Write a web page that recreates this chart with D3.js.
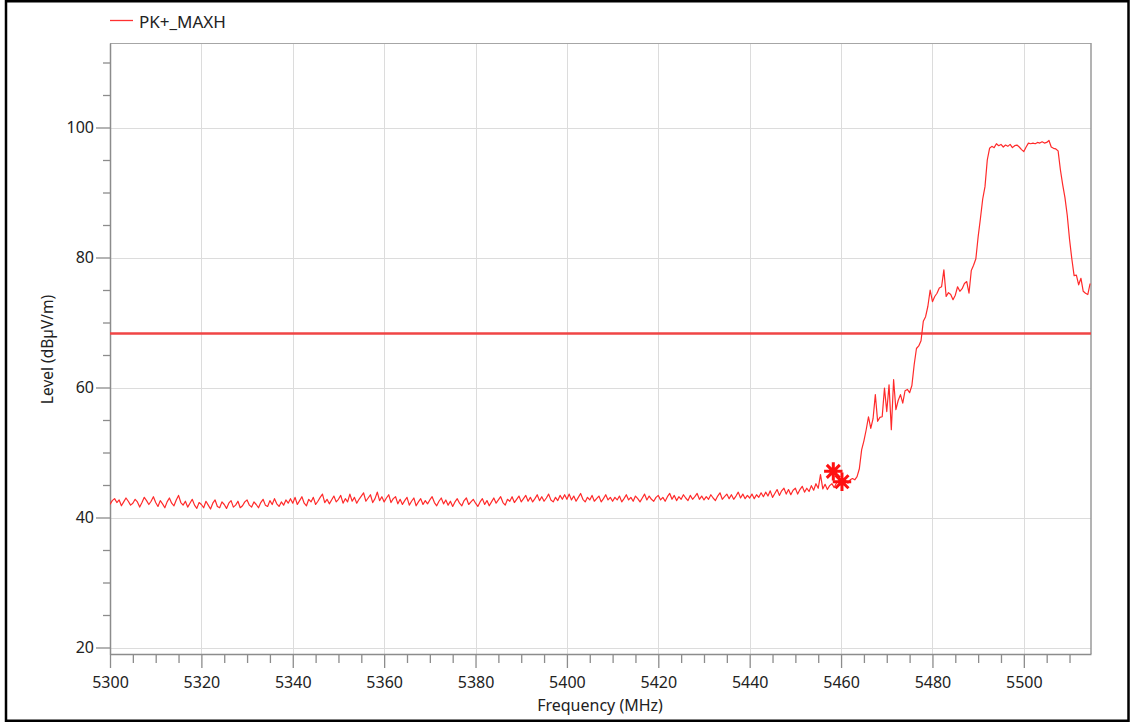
<!DOCTYPE html>
<html>
<head>
<meta charset="utf-8">
<script src="https://cdn.jsdelivr.net/npm/d3@7/dist/d3.min.js"></script>
<style>
  html, body { margin: 0; padding: 0; background: #fff; }
  svg { display: block; font-family: "Noto Sans", "Open Sans", sans-serif; }
</style>
</head>
<body>
<svg id="chart" width="1133" height="723"></svg>
<script>
// ---------- data ----------
const seriesName = "PK+_MAXH";
const freqStart = 5300;      // MHz
const freqStep = 0.5;        // MHz between trace points
const xDomain = [5300, 5514.7];
const yDomain = [19, 113];
const xMajorTicks = [5300, 5320, 5340, 5360, 5380, 5400, 5420, 5440, 5460, 5480, 5500];
const yMajorTicks = [20, 40, 60, 80, 100];
const xMinorStep = 5;
const yMinorStep = 5;
const limitLevel = 68.3;     // dBµV/m
const markerFreqs = [5458.3, 5460.2];
const markerLevels = [47.1, 45.5];
const xTitle = "Frequency (MHz)";
const yTitle = "Level (dBµV/m)";

// trace levels (dBµV/m), one per 0.5 MHz from 5300 MHz
const level = [
  // 5300
  42.0,42.6,42.9,42.3,42.7,41.8,42.4,43.0,42.5,41.9,42.2,42.8,42.4,41.6,42.3,43.1,42.6,42.0,42.5,43.2,
  // 5310
  42.3,41.7,42.6,42.1,41.5,42.4,43.0,42.2,41.8,42.7,43.4,42.3,41.9,42.5,41.6,42.2,42.8,41.9,41.4,42.3,
  // 5320
  42.0,41.5,42.5,41.9,41.3,42.2,42.7,41.7,41.5,42.4,42.0,41.4,42.2,42.6,41.6,41.9,42.5,41.5,41.8,42.4,
  // 5330
  42.7,41.9,41.6,42.4,42.0,41.5,42.3,42.8,41.9,41.7,42.6,42.0,42.9,42.1,41.7,42.4,41.9,42.7,42.2,42.9,
  // 5340
  42.2,43.1,42.0,42.6,43.2,42.2,41.8,42.8,42.4,43.1,42.0,42.5,43.1,43.6,42.3,42.8,42.1,42.7,43.3,42.4,
  // 5350
  42.8,43.4,42.2,42.9,42.4,43.6,42.5,43.1,42.2,42.8,43.3,43.8,42.5,43.0,43.5,42.3,42.9,43.9,42.6,43.2,
  // 5360
  42.4,43.0,43.5,42.3,42.9,43.2,42.1,42.8,42.0,42.6,43.1,41.9,42.5,43.0,41.8,42.4,42.9,42.0,42.6,42.1,
  // 5370
  42.7,43.2,42.3,41.8,42.5,43.0,42.1,42.7,41.9,42.5,41.7,42.4,42.9,42.2,41.8,42.6,43.0,42.0,42.4,42.8,
  // 5380
  42.2,41.7,42.4,42.9,42.0,42.6,41.8,42.4,43.0,42.2,42.7,43.2,42.3,41.9,42.8,42.5,43.2,42.3,42.8,43.3,
  // 5390
  42.4,42.9,43.4,42.5,43.1,42.4,42.9,43.5,42.6,43.2,42.5,43.0,43.6,42.7,42.4,43.1,42.6,43.4,42.8,43.5,
  // 5400
  42.8,43.6,42.7,43.3,42.5,43.1,43.7,42.8,42.4,43.1,42.7,43.4,42.5,42.9,43.3,42.4,42.9,43.5,42.7,43.1,
  // 5410
  42.5,43.1,42.7,43.3,42.4,42.9,43.5,42.7,43.1,42.5,43.3,42.9,42.4,43.0,43.6,42.7,43.3,42.8,42.5,43.1,
  // 5420
  43.4,42.7,43.1,42.5,43.2,43.7,42.8,43.4,42.6,43.2,42.8,43.5,43.0,42.6,43.4,42.8,43.2,43.7,42.8,43.3,
  // 5430
  42.7,43.2,42.8,43.5,43.0,42.6,43.3,43.8,42.8,43.2,43.6,42.9,43.5,42.8,43.3,43.9,43.0,43.6,42.9,43.4,
  // 5440
  43.0,43.6,42.9,43.5,43.1,43.8,43.2,43.9,43.3,44.1,43.1,43.7,44.3,43.4,44.1,44.5,43.6,44.3,43.5,44.2,
  // 5450
  44.5,43.6,44.3,44.8,43.9,44.5,44.0,44.9,44.2,45.2,44.5,46.6,44.4,45.1,44.3,44.9,45.2,44.6,45.3,45.5,
  // 5460
  45.0,45.4,45.7,45.3,45.8,46.0,45.8,46.3,47.5,50.4,51.8,53.5,55.5,53.7,55.2,58.9,54.8,55.4,55.5,59.9,
  // 5470
  56.3,60.4,53.5,61.2,56.6,58.0,58.9,57.6,59.5,59.7,59.2,60.3,63.5,66.0,66.4,67.2,70.2,70.9,72.5,75.0,
  // 5480
  73.2,74.0,74.5,75.3,75.5,78.1,74.0,74.6,74.3,73.5,74.2,75.5,74.8,75.2,76.0,76.3,74.5,78.0,78.8,79.8,
  // 5490
  83.2,86.0,89.0,90.9,95.0,96.8,97.1,96.9,97.5,97.2,97.4,97.0,97.3,97.1,97.4,96.9,97.2,97.3,97.0,96.6,
  // 5500
  96.3,97.0,97.6,97.5,97.6,97.5,97.7,97.6,97.8,97.6,97.7,98.0,97.0,96.8,96.7,96.4,93.5,91.2,89.2,86.5,
  // 5510
  82.8,79.8,77.2,77.3,75.8,76.8,74.8,74.5,74.3,76.0
];

// ---------- layout ----------
const svg = d3.select("#chart");
const plot = { left: 110, top: 43, right: 1091, bottom: 654 };

const x = d3.scaleLinear().domain(xDomain).range([plot.left, plot.right]);
const y = d3.scaleLinear().domain(yDomain).range([plot.bottom, plot.top]);

// outer frame
svg.append("rect")
  .attr("x", 6).attr("y", 1.25).attr("width", 1122.5).attr("height", 719.5)
  .attr("fill", "#fff").attr("stroke", "#000").attr("stroke-width", 2.5);

// gridlines
const grid = svg.append("g");
grid.selectAll("line.vx").data(xMajorTicks.filter(v => v > xDomain[0])).join("line")
  .attr("x1", d => Math.round(x(d)) + 0.5).attr("x2", d => Math.round(x(d)) + 0.5)
  .attr("y1", plot.top).attr("y2", plot.bottom)
  .attr("stroke", "#dcdcdc").attr("stroke-width", 1);
grid.selectAll("line.hy").data(yMajorTicks).join("line")
  .attr("x1", plot.left).attr("x2", plot.right)
  .attr("y1", d => Math.round(y(d)) + 0.5).attr("y2", d => Math.round(y(d)) + 0.5)
  .attr("stroke", "#dcdcdc").attr("stroke-width", 1);

// top and right border of plot
svg.append("line").attr("x1", plot.left).attr("x2", plot.right)
  .attr("y1", plot.top + 0.5).attr("y2", plot.top + 0.5)
  .attr("stroke", "#a6a6a6").attr("stroke-width", 1);
svg.append("line").attr("x1", plot.right).attr("x2", plot.right)
  .attr("y1", plot.top).attr("y2", plot.bottom)
  .attr("stroke", "#9a9a9a").attr("stroke-width", 1.5);

// minor ticks
const xMinor = d3.range(xDomain[0], xDomain[1] + 0.001, xMinorStep).filter(v => !xMajorTicks.includes(v));
const yMinor = d3.range(20, yDomain[1], yMinorStep).filter(v => !yMajorTicks.includes(v));

const xAxisMinor = d3.axisBottom(x).tickValues(xMinor).tickSize(9).tickFormat("");
const yAxisMinor = d3.axisLeft(y).tickValues(yMinor).tickSize(7).tickFormat("");
const xAxis = d3.axisBottom(x).tickValues(xMajorTicks).tickSize(14).tickSizeOuter(0).tickPadding(9).tickFormat(d3.format("d"));
const yAxis = d3.axisLeft(y).tickValues(yMajorTicks).tickSize(14).tickSizeOuter(0).tickPadding(2).tickFormat(d3.format("d"));

function styleAxis(g) {
  g.selectAll("path").attr("stroke", "#8c8c8c").attr("stroke-width", 1.5);
  g.selectAll("line").attr("stroke", "#8c8c8c").attr("stroke-width", 1.3);
  g.selectAll("text").attr("fill", "#222").style("font-size", "16px")
    .style("font-family", '"Noto Sans", sans-serif');
}
svg.append("g").attr("transform", `translate(0,${plot.bottom})`).call(xAxisMinor).call(styleAxis)
  .select(".domain").remove();
svg.append("g").attr("transform", `translate(${plot.left},0)`).call(yAxisMinor).call(styleAxis)
  .select(".domain").remove();
svg.append("g").attr("transform", `translate(0,${plot.bottom})`).call(xAxis).call(styleAxis);
svg.append("g").attr("transform", `translate(${plot.left},0)`).call(yAxis).call(styleAxis);

// axis titles
svg.append("text").attr("x", 600).attr("y", 711)
  .attr("text-anchor", "middle").attr("fill", "#222").style("font-size", "16px").text(xTitle);
svg.append("text").attr("transform", `translate(53,${(plot.top + plot.bottom) / 2 + 1}) rotate(-90)`)
  .attr("text-anchor", "middle").attr("fill", "#222").style("font-size", "15.5px").text(yTitle);

// clip
svg.append("clipPath").attr("id", "clip").append("rect")
  .attr("x", plot.left).attr("y", plot.top)
  .attr("width", plot.right - plot.left).attr("height", plot.bottom - plot.top);

const content = svg.append("g").attr("clip-path", "url(#clip)");

// limit line
content.append("line")
  .attr("x1", x(xDomain[0])).attr("x2", x(xDomain[1]))
  .attr("y1", y(limitLevel)).attr("y2", y(limitLevel))
  .attr("stroke", "#f04545").attr("stroke-width", 2.6);

// trace
const traceData = level.map((v, i) => [freqStart + i * freqStep, v]);
const line = d3.line().x(d => x(d[0])).y(d => y(d[1]));
content.append("path").datum(traceData)
  .attr("d", line).attr("fill", "none")
  .attr("stroke", "#ff2a2a").attr("stroke-width", 1.2).attr("stroke-linejoin", "round");

// markers (8-spoke asterisk)
const star = {
  draw(ctx, size) {
    const r = Math.sqrt(size) / 2;
    const d = r * Math.SQRT1_2;
    ctx.moveTo(-r, 0); ctx.lineTo(r, 0);
    ctx.moveTo(0, -r); ctx.lineTo(0, r);
    ctx.moveTo(-d, -d); ctx.lineTo(d, d);
    ctx.moveTo(-d, d); ctx.lineTo(d, -d);
  }
};
const markers = markerFreqs.map((f, i) => [f, markerLevels[i]]);
content.selectAll("path.mk").data(markers).join("path")
  .attr("class", "mk")
  .attr("transform", d => `translate(${x(d[0])},${y(d[1])})`)
  .attr("d", d3.symbol().type(star).size(340))
  .attr("fill", "none").attr("stroke", "#ff1010").attr("stroke-width", 3);

// legend
const lg = svg.append("g");
lg.append("line").attr("x1", 110).attr("x2", 133).attr("y1", 20.5).attr("y2", 20.5)
  .attr("stroke", "#ff3030").attr("stroke-width", 1.3);
lg.append("text").attr("x", 139).attr("y", 27.5).attr("fill", "#222")
  .style("font-size", "17px").text(seriesName);
</script>
</body>
</html>
